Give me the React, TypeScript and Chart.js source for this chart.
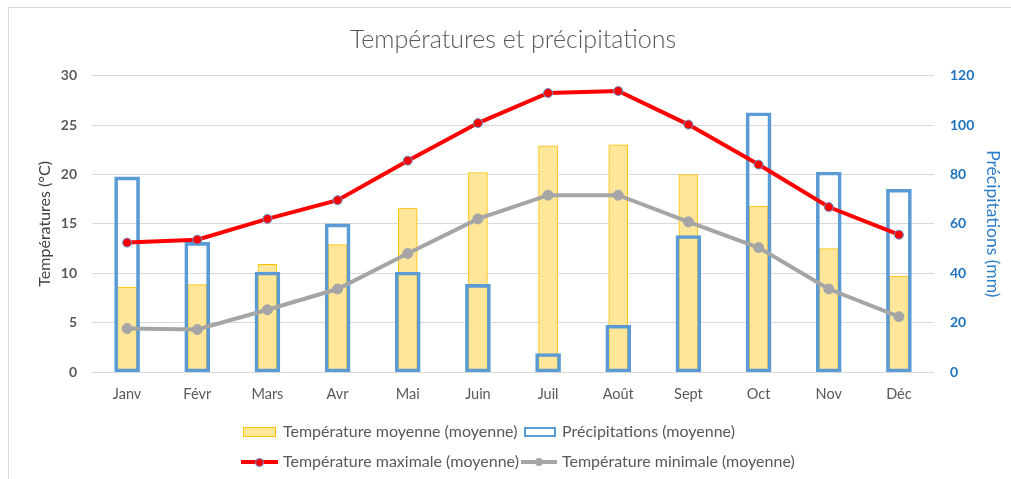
import React, { useEffect, useRef } from "react";
import { Chart, registerables } from "chart.js";
Chart.register(...registerables);

const months = ["Janv", "Févr", "Mars", "Avr", "Mai", "Juin", "Juil", "Août", "Sept", "Oct", "Nov", "Déc"];
const tempMoyenne = [8.6, 8.85, 10.9, 12.9, 16.6, 20.2, 22.9, 23.0, 20.0, 16.8, 12.5, 9.7];
const precipitations = [79, 52.5, 40.5, 60, 40.5, 35.5, 7.5, 19, 55.3, 105, 81, 74];
const tempMax = [13.1, 13.4, 15.5, 17.4, 21.4, 25.2, 28.25, 28.45, 25.05, 21.0, 16.7, 13.9];
const tempMin = [4.4, 4.3, 6.3, 8.4, 12.0, 15.5, 17.9, 17.9, 15.2, 12.6, 8.4, 5.6];
const leftTicks = [0, 5, 10, 15, 20, 25, 30];
const rightTicks = [0, 20, 40, 60, 80, 100, 120];

const FONT = "Lato, 'Open Sans', sans-serif";
const GREY = "#595959";
const BLUE_TXT = "#1F72BE";

export default function App() {
  const ref = useRef<HTMLCanvasElement | null>(null);
  useEffect(() => {
    if (!ref.current) return;
    const chart = new Chart(ref.current, {
      data: {
        labels: months,
        datasets: [
          {
            type: "bar",
            label: "Température moyenne (moyenne)",
            data: tempMoyenne,
            yAxisID: "y",
            backgroundColor: "#FFE699",
            borderColor: "#FFC000",
            borderWidth: 1,
            borderSkipped: false,
            barThickness: 19,
            grouped: false,
            order: 3,
          } as any,
          {
            type: "bar",
            label: "Précipitations (moyenne)",
            data: precipitations,
            yAxisID: "y1",
            backgroundColor: "rgba(0,0,0,0)",
            borderColor: "#5B9BD5",
            borderWidth: 3,
            borderSkipped: false,
            barThickness: 25,
            grouped: false,
            order: 2,
          } as any,
          {
            type: "line",
            label: "Température maximale (moyenne)",
            data: tempMax,
            yAxisID: "y",
            borderColor: "#FF0000",
            borderWidth: 4,
            pointRadius: 4.5,
            pointBackgroundColor: "#FF0000",
            pointBorderColor: "#5B9BD5",
            pointBorderWidth: 1,
            tension: 0,
            order: 0,
          } as any,
          {
            type: "line",
            label: "Température minimale (moyenne)",
            data: tempMin,
            yAxisID: "y",
            borderColor: "#A5A5A5",
            borderWidth: 4,
            pointRadius: 5,
            pointBackgroundColor: "#A5A5A5",
            pointBorderColor: "#A5A5A5",
            pointBorderWidth: 1,
            tension: 0,
            order: 1,
          } as any,
        ],
      },
      options: {
        responsive: false,
        animation: false,
        devicePixelRatio: 1,
        layout: { padding: { left: 22, right: 7, top: 0, bottom: 77 } },
        plugins: {
          legend: { display: false },
          tooltip: { enabled: false },
          title: {
            display: true,
            text: "Températures et précipitations",
            color: GREY,
            font: { family: FONT, size: 25, weight: "300" as any, lineHeight: 1.2 },
            padding: { top: 25, bottom: 20.7 },
          },
        },
        scales: {
          x: {
            offset: true,
            grid: { display: false, drawTicks: false },
            border: { display: false },
            ticks: { color: GREY, font: { family: FONT, size: 14.5 }, padding: 14, maxRotation: 0 },
            afterFit: (s: any) => { s.height = 30; },
          },
          y: {
            position: "left",
            min: 0,
            max: 30,
            afterBuildTicks: (s: any) => { s.ticks = leftTicks.map((v) => ({ value: v })); },
            grid: { color: "#D9D9D9", lineWidth: 1, drawTicks: false },
            border: { display: false },
            ticks: { color: GREY, font: { family: FONT, size: 14, weight: "bold" as any }, padding: 15 },
            title: {
              display: true,
              text: "Températures (°C)",
              color: "#404040",
              font: { family: FONT, size: 16, lineHeight: 1.2 },
              padding: { top: 13, bottom: 0 },
            },
            afterFit: (s: any) => { s.width = 70; },
          },
          y1: {
            position: "right",
            min: 0,
            max: 120,
            afterBuildTicks: (s: any) => { s.ticks = rightTicks.map((v) => ({ value: v })); },
            grid: { display: false, drawTicks: false },
            border: { display: false },
            ticks: { color: BLUE_TXT, font: { family: FONT, size: 14, weight: "bold" as any }, padding: 16 },
            title: {
              display: true,
              text: "Précipitations (mm)",
              color: "#2E7DC8",
              font: { family: FONT, size: 17.5, lineHeight: 1.2 },
              padding: { top: 1, bottom: 0 },
            },
            afterFit: (s: any) => { s.width = 70; },
          },
        },
      } as any,
    });
    return () => chart.destroy();
  }, []);

  const txt: React.CSSProperties = {
    position: "absolute",
    fontFamily: FONT,
    fontSize: 16,
    color: GREY,
    lineHeight: "18px",
    whiteSpace: "nowrap",
  };

  return (
    <div style={{ position: "absolute", left: 0, top: 0, width: 1011, height: 479, overflow: "hidden", background: "#fff" }}>
      <canvas ref={ref} width={1011} height={479} style={{ position: "absolute", left: 0, top: 0, width: 1011, height: 479 }} />
      <div style={{ position: "absolute", left: 8, top: 7, width: 1011, height: 479, border: "1px solid #D9D9D9", pointerEvents: "none" }} />
      {/* legend row 1 */}
      <div style={{ position: "absolute", left: 243, top: 427, width: 31, height: 8, background: "#FFE699", border: "1px solid #FFC000" }} />
      <div style={{ ...txt, left: 283, top: 422 }}>Température moyenne (moyenne)</div>
      <div style={{ position: "absolute", left: 524, top: 427, width: 28, height: 6, background: "#fff", border: "2px solid #5B9BD5" }} />
      <div style={{ ...txt, left: 562, top: 422 }}>Précipitations (moyenne)</div>
      {/* legend row 2 */}
      <div style={{ position: "absolute", left: 241, top: 460, width: 37, height: 4, background: "#FF0000" }} />
      <div style={{ position: "absolute", left: 255, top: 458, width: 7, height: 7, borderRadius: "50%", background: "#FF0000", border: "1px solid #5B9BD5" }} />
      <div style={{ ...txt, left: 283, top: 452 }}>Température maximale (moyenne)</div>
      <div style={{ position: "absolute", left: 521, top: 460, width: 36, height: 4, background: "#A5A5A5" }} />
      <div style={{ position: "absolute", left: 535, top: 458, width: 8, height: 8, borderRadius: "50%", background: "#A5A5A5" }} />
      <div style={{ ...txt, left: 562, top: 452 }}>Température minimale (moyenne)</div>
    </div>
  );
}
